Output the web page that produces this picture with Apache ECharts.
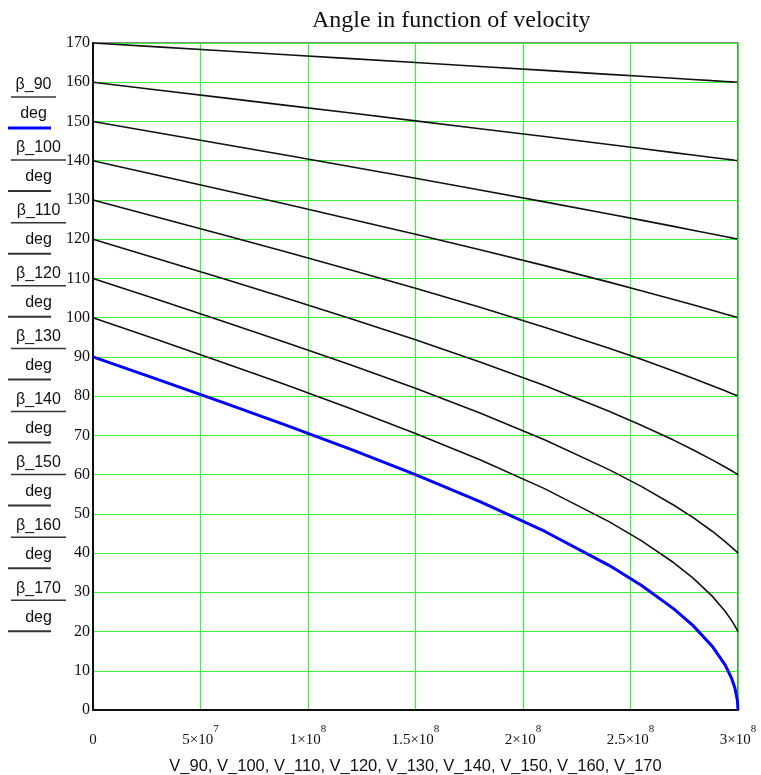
<!DOCTYPE html>
<html>
<head>
<meta charset="utf-8">
<script src="https://cdn.jsdelivr.net/npm/echarts@6/dist/echarts.min.js"></script>
<style>
  html, body { margin: 0; padding: 0; background: #fff; }
  #chart { width: 761px; height: 775px; }
</style>
</head>
<body>
<div id="chart"></div>
<script>
// Velocity samples (m/s) shared by every curve
const velocity = [0, 3e7, 6e7, 9e7, 1.2e8, 1.5e8, 1.8e8, 2.1e8, 2.4e8, 2.55e8, 2.7e8, 2.79e8, 2.88e8, 2.94e8, 2.97e8, 2.985e8, 2.997e8, 3e8];

// Angle (deg) of each family member at the velocities above
const beta90  = [90, 84.26, 78.46, 72.54, 66.42, 60.00, 53.13, 45.57, 36.87, 31.79, 25.84, 21.57, 16.26, 11.48, 8.11, 5.73, 2.56, 0];
const beta100 = [100, 94.35, 88.64, 82.82, 76.80, 70.50, 63.78, 56.42, 48.02, 43.17, 37.59, 33.67, 29.02, 25.18, 22.85, 21.51, 20.32, 20];
const beta110 = [110, 104.61, 99.17, 93.63, 87.92, 81.98, 75.68, 68.87, 61.26, 56.99, 52.25, 49.08, 45.56, 42.94, 41.52, 40.77, 40.16, 40];
const beta120 = [120, 115.03, 110.03, 104.94, 99.73, 94.34, 88.69, 82.68, 76.15, 72.60, 68.79, 66.35, 63.76, 61.93, 60.98, 60.49, 60.10, 60];
const beta130 = [130, 125.61, 121.19, 116.71, 112.16, 107.48, 102.64, 97.57, 92.20, 89.37, 86.41, 84.57, 82.66, 81.35, 80.68, 80.34, 80.07, 80];
const beta140 = [140, 136.31, 132.61, 128.88, 125.10, 121.25, 117.31, 113.26, 109.05, 106.88, 104.65, 103.29, 101.90, 100.95, 100.48, 100.24, 100.05, 100];
const beta150 = [150, 147.13, 144.26, 141.37, 138.46, 135.52, 132.54, 129.51, 126.42, 124.85, 123.26, 122.29, 121.32, 120.66, 120.33, 120.17, 120.03, 120];
const beta160 = [160, 158.04, 156.08, 154.11, 152.14, 150.15, 148.16, 146.15, 144.12, 143.10, 142.07, 141.45, 140.83, 140.42, 140.21, 140.10, 140.02, 140];
const beta170 = [170, 169.01, 168.01, 167.01, 166.02, 165.02, 164.02, 163.02, 162.01, 161.51, 161.01, 160.71, 160.40, 160.20, 160.10, 160.05, 160.01, 160];

const seriesNames = ['β_90', 'β_100', 'β_110', 'β_120', 'β_130', 'β_140', 'β_150', 'β_160', 'β_170'];
const seriesValues = [beta90, beta100, beta110, beta120, beta130, beta140, beta150, beta160, beta170];

// x tick labels: mantissa and power of ten
const xTickMantissa = ['0', '5', '1', '1.5', '2', '2.5', '3'];
const xTickExponent = ['', '7', '8', '8', '8', '8', '8'];

const xAxisTitle = 'V_90, V_100, V_110, V_120, V_130, V_140, V_150, V_160, V_170';
const chartTitle = 'Angle in function of velocity';
const unitText = 'deg';

const SERIF = '"Liberation Serif", "Times New Roman", serif';
const SANS = '"Liberation Sans", Arial, sans-serif';
const GRID_GREEN = '#3cf03c';

const chart = echarts.init(document.getElementById('chart'), null, { renderer: 'canvas' });

const series = seriesValues.map((vals, i) => ({
  name: seriesNames[i],
  type: 'line',
  showSymbol: false,
  symbol: 'none',
  silent: true,
  z: i === 0 ? 3 : 2,
  lineStyle: { color: i === 0 ? '#0000ff' : '#111', width: i === 0 ? 3 : 1.6 },
  data: velocity.map((v, k) => [v, vals[k]])
}));

// Stacked "β_xx / deg" fractions with a line-style sample under each
const legendGraphics = [];
seriesNames.forEach((name, i) => {
  const cy = 85 + 62.9 * i;
  const barW = i === 0 ? 45 : 55;
  const cx = 11 + barW / 2;
  legendGraphics.push({
    type: 'text', x: cx, y: cy, silent: true,
    style: { text: name, font: '16px ' + SANS, fill: '#111', align: 'center', verticalAlign: 'middle' }
  });
  legendGraphics.push({
    type: 'line', silent: true,
    shape: { x1: 11, y1: cy + 12, x2: 11 + barW, y2: cy + 12 },
    style: { stroke: '#333', lineWidth: 1.5 }
  });
  legendGraphics.push({
    type: 'text', x: cx, y: cy + 29, silent: true,
    style: { text: unitText, font: '16px ' + SANS, fill: '#111', align: 'center', verticalAlign: 'middle' }
  });
  legendGraphics.push({
    type: 'line', silent: true,
    shape: { x1: 8, y1: cy + 43, x2: 51, y2: cy + 43 },
    style: { stroke: i === 0 ? '#0000ff' : '#333', lineWidth: i === 0 ? 3 : 2 }
  });
});

chart.setOption({
  animation: false,
  backgroundColor: '#fff',
  title: {
    text: chartTitle,
    left: 307,
    top: 4,
    textStyle: { fontFamily: SERIF, fontSize: 24, fontWeight: 'normal', color: '#111' }
  },
  grid: {
    left: 93, right: 23, top: 43, bottom: 65,
    containLabel: false,
    outerBoundsMode: 'none',
    show: true, borderColor: '#111', borderWidth: 1.2, backgroundColor: 'transparent'
  },
  xAxis: {
    type: 'value',
    min: 0, max: 3e8, interval: 5e7,
    name: xAxisTitle,
    nameLocation: 'middle',
    nameGap: 48,
    nameTextStyle: { fontFamily: SANS, fontSize: 16.5, color: '#111' },
    axisLine: { show: true, onZero: false, lineStyle: { color: '#111', width: 2 } },
    axisTick: { show: false },
    splitLine: { show: true, lineStyle: { color: GRID_GREEN, width: 1.2 } },
    axisLabel: {
      margin: 14,
      color: '#111',
      formatter: function (val) {
        const idx = Math.round(val / 5e7);
        if (!xTickExponent[idx]) return '{m|' + xTickMantissa[idx] + '}';
        return '{m|' + xTickMantissa[idx] + '×10}{e|' + xTickExponent[idx] + '}';
      },
      rich: {
        m: { fontFamily: SERIF, fontSize: 15, color: '#111', lineHeight: 24, verticalAlign: 'bottom' },
        e: { fontFamily: SERIF, fontSize: 11, color: '#111', lineHeight: 11, verticalAlign: 'top' }
      }
    }
  },
  yAxis: {
    type: 'value',
    min: 0, max: 170, interval: 10,
    axisLine: { show: true, onZero: false, lineStyle: { color: '#111', width: 2 } },
    axisTick: { show: false },
    splitLine: { show: true, lineStyle: { color: GRID_GREEN, width: 1.2 } },
    axisLabel: { margin: 3, fontFamily: SERIF, fontSize: 16, color: '#111' }
  },
  graphic: legendGraphics,
  series: series
});
</script>
</body>
</html>
